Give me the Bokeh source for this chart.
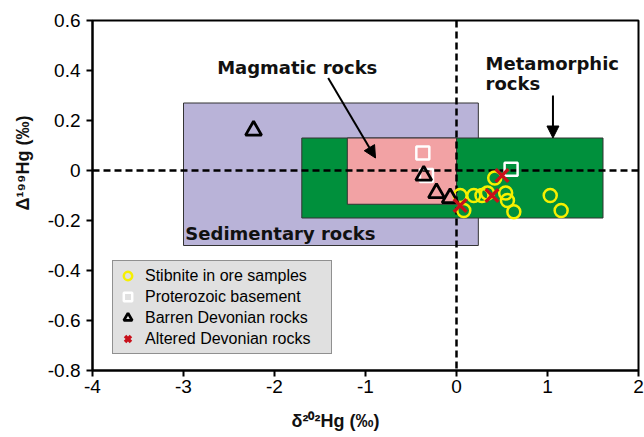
from bokeh.plotting import figure
from bokeh.models import Span, Label, Arrow, NormalHead, Legend, LegendItem, FixedTicker
from bokeh.embed import file_html
from bokeh.resources import INLINE

# ---- data ----
region_names = ["Sedimentary rocks", "Metamorphic rocks", "Magmatic rocks"]
region_left = [-3.0, -1.7, -1.2]
region_right = [0.24, 1.61, 0.0]
region_bottom = [-0.30, -0.19, -0.135]
region_top = [0.27, 0.13, 0.13]
region_colors = ["#B9B3D8", "#00903C", "#F2A2A4"]

stib_x = [0.04, 0.08, 0.19, 0.28, 0.34, 0.42, 0.54, 0.56, 0.63, 1.03, 1.15]
stib_y = [-0.10, -0.16, -0.10, -0.10, -0.09, -0.03, -0.09, -0.12, -0.165, -0.10, -0.16]
prot_x = [-0.37, -0.33, 0.60]
prot_y = [0.07, -0.02, 0.005]
barren_x = [-2.23, -0.36, -0.22, -0.07]
barren_y = [0.16, -0.02, -0.09, -0.11]
alt_x = [0.04, 0.39, 0.50]
alt_y = [-0.14, -0.10, -0.02]

x_ticks = [-4, -3, -2, -1, 0, 1, 2]
x_tick_labels = ["-4", "-3", "-2", "-1", "0", "1", "2"]
y_ticks = [-0.8, -0.6, -0.4, -0.2, 0, 0.2, 0.4, 0.6]
y_tick_labels = ["-0.8", "-0.6", "-0.4", "-0.2", "0", "0.2", "0.4", "0.6"]

FONT = "Liberation Sans"
BOLD_FONT = "DejaVu Sans"
NB = "\u00a0"

p = figure(width=644, height=437, x_range=(-4, 2), y_range=(-0.8, 0.6),
           output_backend="svg", toolbar_location=None,
           min_border_left=92, min_border_right=6, min_border_top=20, min_border_bottom=67)
p.xgrid.visible = False
p.ygrid.visible = False
p.outline_line_color = "black"
p.outline_line_width = 2
p.background_fill_color = "white"

for ax, ticks, labels in ((p.xaxis, x_ticks, x_tick_labels), (p.yaxis, y_ticks, y_tick_labels)):
    ax.ticker = FixedTicker(ticks=ticks)
    ax.major_label_overrides = {t: l for t, l in zip(ticks, labels)}
    ax.axis_line_width = 2
    ax.axis_line_color = "black"
    ax.major_tick_line_width = 2
    ax.major_tick_out = 6
    ax.major_tick_in = 0
    ax.minor_tick_line_color = None
    ax.major_label_text_font = FONT
    ax.major_label_text_font_size = "19px"
    ax.major_label_text_color = "black"
    ax.axis_label_text_font = FONT
    ax.axis_label_text_font_size = "18px"
    ax.axis_label_text_font_style = "bold"
    ax.axis_label_text_color = "#111111"
p.yaxis.major_label_standoff = 6
p.xaxis.major_label_standoff = 3
p.xaxis.axis_label = "δ²⁰²Hg (‰)" + NB * 12
p.yaxis.axis_label = NB * 13 + "Δ¹⁹⁹Hg (‰)"
p.xaxis.axis_label_standoff = 15
p.yaxis.axis_label_standoff = 12

# regions
p.quad(left=region_left, right=region_right, bottom=region_bottom, top=region_top,
       fill_color=region_colors, line_color="#333333", line_width=1, level="image")

# zero lines
for dim in ("width", "height"):
    p.add_layout(Span(location=0, dimension=dim, line_color="black", line_width=2.5,
                      line_dash="7 4", level="underlay"))

r_stib = p.scatter(stib_x, stib_y, marker="circle", size=13, fill_color=None,
                   line_color="#F6F000", line_width=2.5)
r_prot = p.scatter(prot_x, prot_y, marker="square", size=13, fill_color=None,
                   line_color="white", line_width=2.5)
r_barr = p.scatter(barren_x, barren_y, marker="triangle", size=16, fill_color=None,
                   line_color="black", line_width=2.8)
r_alt = p.scatter(alt_x, alt_y, marker="x", size=18, line_color="#C8101A", line_width=3.5)

legend = Legend(items=[
    LegendItem(label="Stibnite in ore samples", renderers=[r_stib]),
    LegendItem(label="Proterozoic basement", renderers=[r_prot]),
    LegendItem(label="Barren Devonian rocks", renderers=[r_barr]),
    LegendItem(label="Altered Devonian rocks", renderers=[r_alt]),
], location=(20, 16))
legend.background_fill_color = "#E0E0E0"
legend.background_fill_alpha = 1
legend.border_line_color = "#404040"
legend.border_line_width = 1.5
legend.label_text_font = FONT
legend.label_text_font_size = "16px"
legend.label_text_color = "black"
legend.padding = 4
legend.spacing = 0
legend.margin = 0
legend.glyph_width = 21
legend.glyph_height = 21
legend.label_height = 21
legend.label_standoff = 7
legend.label_width = 182
p.add_layout(legend, "center")

def lab(text, x, y, size="18px", align="left"):
    p.add_layout(Label(x=x, y=y, text=text, text_font=BOLD_FONT, text_font_size=size,
                       text_font_style="bold", text_color="#111111",
                       text_align=align, text_baseline="middle"))

lab("Magmatic rocks", -1.75, 0.412, align="center")
lab("Metamorphic", 0.32, 0.428)
lab("rocks", 0.32, 0.348)
lab("Sedimentary rocks", -2.98, -0.25)

p.add_layout(Arrow(end=NormalHead(size=12, fill_color="black", line_color="black"),
                   x_start=-1.41, y_start=0.37, x_end=-0.89, y_end=0.05,
                   line_color="black", line_width=2))
p.add_layout(Arrow(end=NormalHead(size=12, fill_color="black", line_color="black"),
                   x_start=1.06, y_start=0.30, x_end=1.06, y_end=0.13,
                   line_color="black", line_width=2))

open("out.html", "w").write(file_html(p, INLINE))
